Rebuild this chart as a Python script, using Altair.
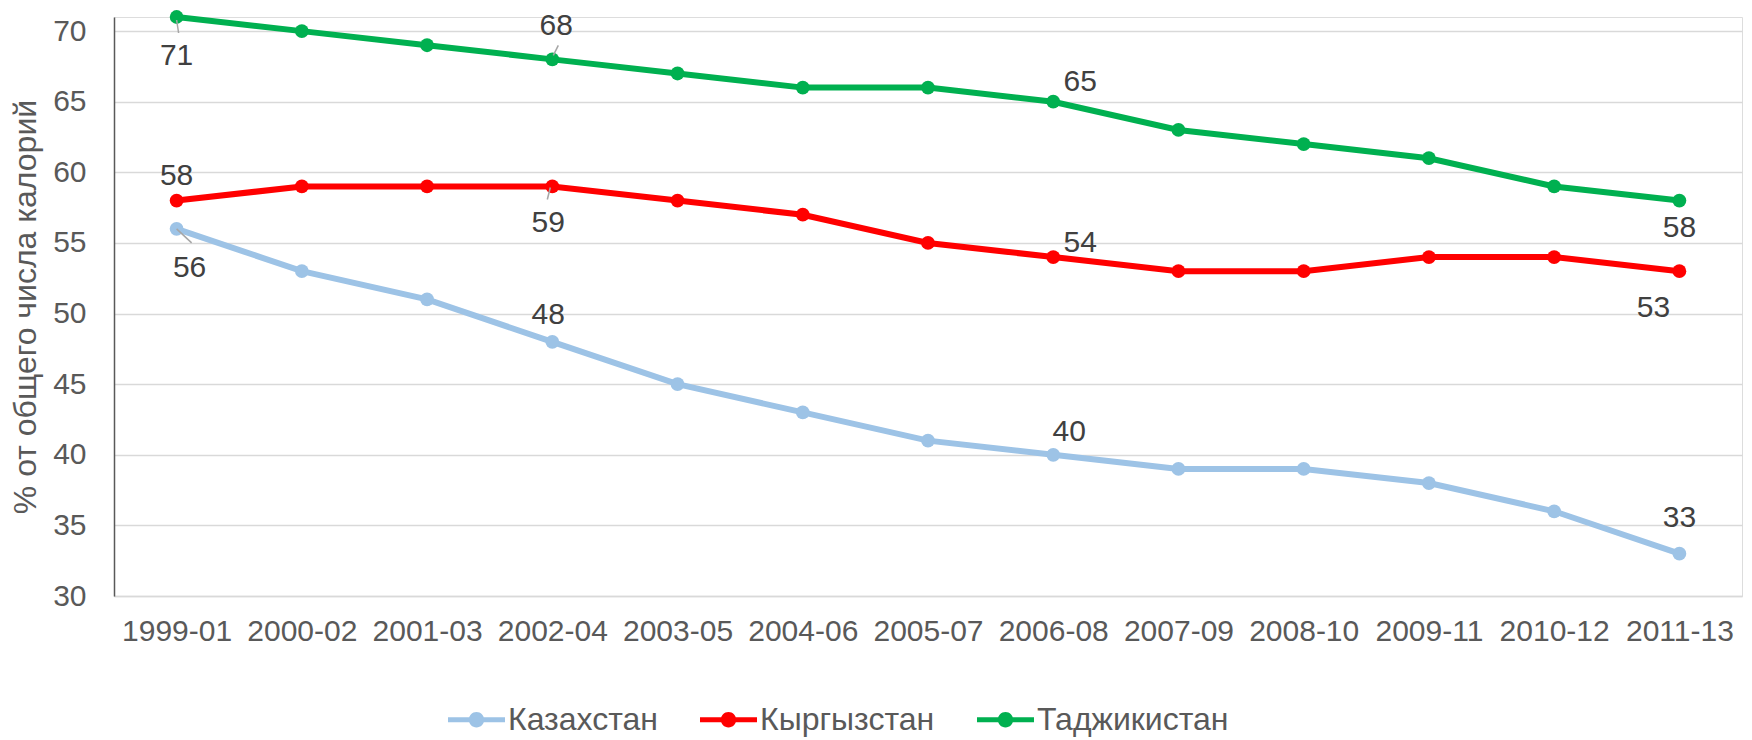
import altair as alt
import pandas as pd

periods = ["1999-01", "2000-02", "2001-03", "2002-04", "2003-05", "2004-06", "2005-07",
           "2006-08", "2007-09", "2008-10", "2009-11", "2010-12", "2011-13"]
countries = ["Казахстан", "Кыргызстан", "Таджикистан"]
kazakhstan = [56, 53, 51, 48, 45, 43, 41, 40, 39, 39, 38, 36, 33]
kyrgyzstan = [58, 59, 59, 59, 58, 57, 55, 54, 53, 53, 54, 54, 53]
tajikistan = [71, 70, 69, 68, 67, 66, 66, 65, 63, 62, 61, 59, 58]
colors = ["#9DC3E6", "#FF0000", "#00B050"]

series = {"Казахстан": kazakhstan, "Кыргызстан": kyrgyzstan, "Таджикистан": tajikistan}
rows = []
for c in countries:
    for p, v in zip(periods, series[c]):
        rows.append({"period": p, "country": c, "value": v})
df = pd.DataFrame(rows)

# labelled points: (country, period index, dx, dy)
label_specs = [
    ("Таджикистан", 0, 0, 39), ("Таджикистан", 3, 4, -33), ("Таджикистан", 7, 27, -20), ("Таджикистан", 12, 0, 27),
    ("Кыргызстан", 0, 0, -25), ("Кыргызстан", 3, -4, 37), ("Кыргызстан", 7, 27, -14), ("Кыргызстан", 12, -26, 37),
    ("Казахстан", 0, 13, 39), ("Казахстан", 3, -4, -27), ("Казахстан", 7, 16, -23), ("Казахстан", 12, 0, -36),
]
# leader lines: (country, period index, x0, y0, x1, y1) pixel offsets from the point
leader_specs = [
    ("Таджикистан", 0, 0, 3, 2, 16),
    ("Таджикистан", 3, 1, -4, 6, -14),
    ("Кыргызстан", 3, -2, 1, -5, 13),
    ("Казахстан", 0, 0, 0, 15, 14),
]

FONT = "Liberation Sans"

x_enc = alt.X("period:N", sort=periods,
              scale=alt.Scale(type="point", padding=0.5),
              axis=alt.Axis(title=None, labelAngle=0, labelFontSize=30, labelColor="#595959",
                            labelPadding=20, ticks=False, grid=False, domainColor="#D9D9D9",
                            domainWidth=1.5, labelOverlap=False, labelFont=FONT))
y_enc = alt.Y("value:Q", scale=alt.Scale(domain=[30, 71], nice=False, zero=False),
              axis=alt.Axis(title="% от общего числа калорий", values=[30, 35, 40, 45, 50, 55, 60, 65, 70],
                            labelFontSize=30, labelColor="#595959", labelPadding=28, ticks=False,
                            grid=True, gridColor="#D9D9D9", gridWidth=1.5,
                            domainColor="#595959", domainWidth=1.5,
                            titleFontSize=32, titleColor="#595959", titleFontWeight="normal",
                            titlePadding=10, titleFont=FONT, labelFont=FONT))

legend_path = ("M-1,-0.085L1,-0.085L1,0.085L-1,0.085Z "
               "M-0.27,0A0.27,0.27 0 1,1 0.27,0A0.27,0.27 0 1,1 -0.27,0Z")

color_enc = alt.Color("country:N", sort=countries,
                      scale=alt.Scale(domain=countries, range=colors),
                      legend=alt.Legend(title=None, orient="none", direction="horizontal",
                                        legendX=334, legendY=674,
                                        symbolType=legend_path, symbolSize=3249,
                                        symbolStrokeWidth=0, symbolOpacity=1,
                                        labelFontSize=32, labelColor="#595959", labelFont=FONT,
                                        labelLimit=400, labelOffset=3, columnPadding=42))

base = alt.Chart(df)
lines = base.mark_line(strokeWidth=6).encode(x=x_enc, y=y_enc, color=color_enc)
points = base.mark_circle(size=190, opacity=1).encode(x=x_enc, y=y_enc, color=color_enc)

layers = [lines, points]
for c, i, x0, y0, x1, y1 in leader_specs:
    r = (alt.Chart(df)
         .transform_filter((alt.datum.country == c) & (alt.datum.period == periods[i]))
         .mark_rule(color="#A6A6A6", strokeWidth=1.5, xOffset=x0, yOffset=y0, x2Offset=x1, y2Offset=y1)
         .encode(x=alt.X("period:N", sort=periods), y="value:Q",
                 x2="period:N", y2="value:Q"))
    layers.append(r)
for c, i, dx, dy in label_specs:
    t = (alt.Chart(df)
         .transform_filter((alt.datum.country == c) & (alt.datum.period == periods[i]))
         .mark_text(dx=dx, dy=dy, fontSize=30, color="#404040", font=FONT)
         .encode(x=alt.X("period:N", sort=periods), y="value:Q", text="value:Q"))
    layers.append(t)

chart = (alt.layer(*layers)
         .properties(width=1628, height=579,
                     autosize=alt.AutoSizeParams(type="none"),
                     padding={"left": 106, "top": 9, "right": 2, "bottom": 143})
         .configure_view(stroke=None)
         .configure(font=FONT))

chart.save("out.html", embed_options={"renderer": "svg", "actions": False})
